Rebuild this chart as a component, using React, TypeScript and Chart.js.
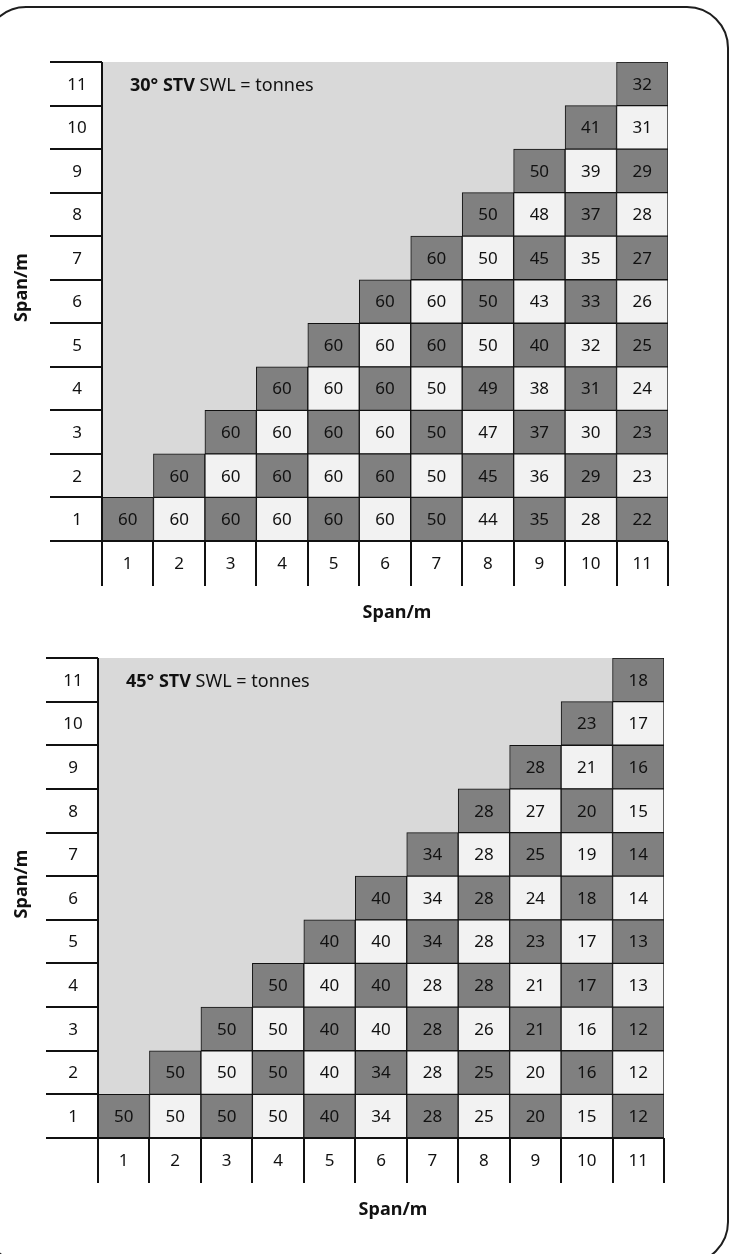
import React, { useEffect, useRef } from "react";
import { Chart, registerables } from "chart.js";

Chart.register(...registerables);

// Span (m) categories along x and y
const spans = ["1", "2", "3", "4", "5", "6", "7", "8", "9", "10", "11"];
const rowLabels = ["1", "2", "3", "4", "5", "6", "7", "8", "9", "10", "11"];

// 30° STV SWL (tonnes); row r lists columns r..11
const swl30Row1 = [60, 60, 60, 60, 60, 60, 50, 44, 35, 28, 22];
const swl30Row2 = [60, 60, 60, 60, 60, 50, 45, 36, 29, 23];
const swl30Row3 = [60, 60, 60, 60, 50, 47, 37, 30, 23];
const swl30Row4 = [60, 60, 60, 50, 49, 38, 31, 24];
const swl30Row5 = [60, 60, 60, 50, 40, 32, 25];
const swl30Row6 = [60, 60, 50, 43, 33, 26];
const swl30Row7 = [60, 50, 45, 35, 27];
const swl30Row8 = [50, 48, 37, 28];
const swl30Row9 = [50, 39, 29];
const swl30Row10 = [41, 31];
const swl30Row11 = [32];

// 45° STV SWL (tonnes)
const swl45Row1 = [50, 50, 50, 50, 40, 34, 28, 25, 20, 15, 12];
const swl45Row2 = [50, 50, 50, 40, 34, 28, 25, 20, 16, 12];
const swl45Row3 = [50, 50, 40, 40, 28, 26, 21, 16, 12];
const swl45Row4 = [50, 40, 40, 28, 28, 21, 17, 13];
const swl45Row5 = [40, 40, 34, 28, 23, 17, 13];
const swl45Row6 = [40, 34, 28, 24, 18, 14];
const swl45Row7 = [34, 28, 25, 19, 14];
const swl45Row8 = [28, 27, 20, 15];
const swl45Row9 = [28, 21, 16];
const swl45Row10 = [23, 17];
const swl45Row11 = [18];

const rows30 = [swl30Row1, swl30Row2, swl30Row3, swl30Row4, swl30Row5, swl30Row6, swl30Row7, swl30Row8, swl30Row9, swl30Row10, swl30Row11];
const rows45 = [swl45Row1, swl45Row2, swl45Row3, swl45Row4, swl45Row5, swl45Row6, swl45Row7, swl45Row8, swl45Row9, swl45Row10, swl45Row11];

const FONT = "'Noto Sans', 'Open Sans', sans-serif";
const DARK = "#808080";
const LIGHT = "#f2f2f2";
const BG = "#d9d9d9";
const LINE = "#111111";

function buildDatasets(rows: number[][]) {
  return rows.map((vals, ri) => {
    const r = ri + 1;
    const data = spans.map((_, ci) => (ci + 1 >= r ? [r - 0.5, r + 0.5] : null));
    const colors = spans.map((_, ci) => ((ci + 1 + r) % 2 === 0 ? DARK : LIGHT));
    const values = spans.map((_, ci) => (ci + 1 >= r ? vals[ci + 1 - r] : null));
    return {
      label: "Row " + r,
      data,
      values,
      backgroundColor: colors,
      borderColor: LINE,
      borderWidth: 1,
      borderSkipped: false,
      grouped: false,
      barPercentage: 1,
      categoryPercentage: 1,
    } as any;
  });
}

function makePlugin(boldTitle: string, restTitle: string, xTitleOffset: number, yTitleCenterShift: number) {
  return {
    id: "stvDecor",
    beforeDatasetsDraw(chart: any) {
      const { ctx, chartArea } = chart;
      ctx.save();
      ctx.fillStyle = BG;
      ctx.fillRect(chartArea.left, chartArea.top, chartArea.right - chartArea.left, chartArea.bottom - chartArea.top);
      ctx.restore();
    },
    afterDatasetsDraw(chart: any) {
      const { ctx, chartArea } = chart;
      const xs = chart.scales.x;
      const ys = chart.scales.y;
      ctx.save();
      // values in cells
      ctx.font = "17px " + FONT;
      ctx.fillStyle = "#111";
      ctx.textAlign = "center";
      ctx.textBaseline = "middle";
      chart.data.datasets.forEach((ds: any, di: number) => {
        const meta = chart.getDatasetMeta(di);
        meta.data.forEach((el: any, i: number) => {
          const v = ds.values[i];
          if (v == null) return;
          const cy = (el.y + el.base) / 2;
          ctx.fillText(String(v), el.x, cy + 1);
        });
      });

      // axis label boxes
      const n = spans.length;
      const w = (chartArea.right - chartArea.left) / n;
      const boxW = 52;
      const boxH = 45;
      ctx.strokeStyle = LINE;
      ctx.lineWidth = 2;
      for (let k = 0; k <= n; k++) {
        const yy = Math.round(ys.getPixelForValue(k + 0.5));
        ctx.beginPath();
        ctx.moveTo(chartArea.left - boxW, yy);
        ctx.lineTo(chartArea.left, yy);
        ctx.stroke();
      }
      const yb = Math.round(ys.getPixelForValue(0.5));
      ctx.beginPath();
      ctx.moveTo(chartArea.left - boxW, yb);
      ctx.lineTo(chartArea.right, yb);
      ctx.stroke();
      ctx.beginPath();
      ctx.moveTo(chartArea.left, chartArea.top);
      ctx.lineTo(chartArea.left, yb + boxH);
      ctx.stroke();
      for (let k = 1; k <= n; k++) {
        const xx = Math.round(chartArea.left + k * w);
        ctx.beginPath();
        ctx.moveTo(xx, yb);
        ctx.lineTo(xx, yb + boxH);
        ctx.stroke();
      }
      // tick labels
      ctx.fillStyle = "#111";
      ctx.font = "17px " + FONT;
      rowLabels.forEach((lab, i) => {
        ctx.fillText(lab, chartArea.left - boxW / 2 + 1, ys.getPixelForValue(i + 1) + 1);
      });
      spans.forEach((lab, i) => {
        ctx.fillText(lab, xs.getPixelForValue(i), yb + boxH / 2 + 1);
      });
      // axis titles
      ctx.font = "bold 18px " + FONT;
      ctx.fillText("Span/m", (chartArea.left + chartArea.right) / 2 + xTitleOffset, yb + boxH + 27);
      ctx.save();
      ctx.translate(22, (chartArea.top + yb) / 2 + yTitleCenterShift);
      ctx.rotate(-Math.PI / 2);
      ctx.fillText("Span/m", 0, 0);
      ctx.restore();
      // chart title
      ctx.textAlign = "left";
      ctx.font = "bold 18px " + FONT;
      const tx = chartArea.left + 28;
      const ty = ys.getPixelForValue(11) + 2;
      ctx.fillText(boldTitle, tx, ty);
      const bw = ctx.measureText(boldTitle).width;
      ctx.font = "18px " + FONT;
      ctx.fillText(restTitle, tx + bw, ty);
      ctx.restore();
    },
  };
}

function StvChart(props: { rows: number[][]; bold: string; rest: string; width: number; height: number; padding: any; top: number }) {
  const ref = useRef<HTMLCanvasElement | null>(null);
  useEffect(() => {
    if (!ref.current) return;
    const chart = new Chart(ref.current, {
      type: "bar",
      data: { labels: spans, datasets: buildDatasets(props.rows) },
      options: {
        responsive: false,
        animation: false,
        devicePixelRatio: 1,
        layout: { padding: props.padding },
        plugins: { legend: { display: false }, tooltip: { enabled: false }, title: { display: false } },
        scales: {
          x: { type: "category", display: false, offset: true },
          y: { type: "linear", display: false, min: 0.5, max: 11.5 },
        },
      } as any,
      plugins: [makePlugin(props.bold, props.rest, 12, -14)],
    });
    return () => chart.destroy();
  }, []);
  return (
    <canvas
      ref={ref}
      width={props.width}
      height={props.height}
      style={{ position: "absolute", left: 0, top: props.top, width: props.width, height: props.height }}
    />
  );
}

export default function App() {
  return (
    <div style={{ position: "fixed", left: 0, top: 0, width: 736, height: 1254, overflow: "hidden", background: "#fff" }}>
      <div
        style={{
          position: "absolute",
          left: -16,
          top: 6,
          width: 745,
          height: 1258,
          border: "2px solid #1e1e1e",
          borderRadius: 42,
          boxSizing: "border-box",
        }}
      />
      <StvChart rows={rows30} bold="30° STV" rest=" SWL = tonnes" width={736} height={630} top={0}
        padding={{ left: 102, top: 62, right: 68, bottom: 89 }} />
      <StvChart rows={rows45} bold="45° STV" rest=" SWL = tonnes" width={736} height={624} top={630}
        padding={{ left: 98, top: 28, right: 72, bottom: 116 }} />
    </div>
  );
}
